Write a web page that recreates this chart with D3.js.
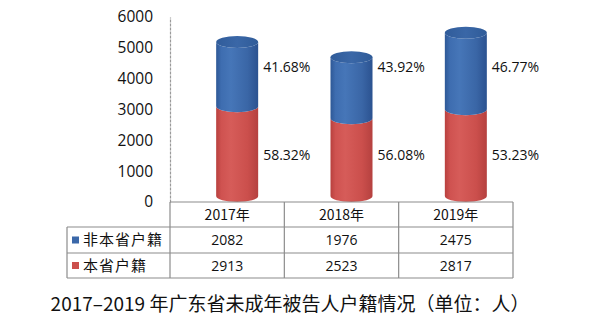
<!DOCTYPE html>
<html>
<head>
<meta charset="utf-8">
<script src="https://cdnjs.cloudflare.com/ajax/libs/d3/7.8.5/d3.min.js"></script>
<style>
  html, body { margin: 0; padding: 0; background: #fff; }
  svg { display: block; }
</style>
</head>
<body>
<svg id="chart" width="612" height="336"></svg>
<script>
// Data: minors tried in Guangdong, by household registration
const years = ["2017年", "2018年", "2019年"];
const seriesNames = ["非本省户籍", "本省户籍"];
const nonLocal = [2082, 1976, 2475];   // 非本省户籍
const local = [2913, 2523, 2817];      // 本省户籍
const yTicks = [0, 1000, 2000, 3000, 4000, 5000, 6000];
const title = "2017–2019 年广东省未成年被告人户籍情况（单位：人）";

const colors = { nonLocal: "#3B68A9", local: "#CB4F4C" };
const latin = "'Open Sans', 'Liberation Sans', Arial, sans-serif";
const cjk = "'Noto Sans CJK SC', 'Noto Sans', sans-serif";

const svg = d3.select("#chart");

const x = d3.scaleBand().domain(years).range([170, 513]).padding(0);
const y = d3.scaleLinear().domain([0, 6000]).range([202, 17]);

// gradients for the cylinder bodies
const defs = svg.append("defs");
function bodyGradient(id, stops) {
  const g = defs.append("linearGradient").attr("id", id)
    .attr("x1", "0%").attr("x2", "100%").attr("y1", "0%").attr("y2", "0%");
  stops.forEach(([o, c]) => g.append("stop").attr("offset", o).attr("stop-color", c));
}
bodyGradient("gBlue", [["0%", "#2E5896"], ["12%", "#3E6DB0"], ["35%", "#4676B8"], ["75%", "#3A66A6"], ["100%", "#2B5290"]]);
bodyGradient("gRed", [["0%", "#B8403E"], ["12%", "#CF5250"], ["35%", "#D65C59"], ["75%", "#CB4F4C"], ["100%", "#B5413F"]]);
bodyGradient("gTop", [["0%", "#305C9A"], ["50%", "#3A67A7"], ["100%", "#2F5B98"]]);

// value axis
const yAxis = d3.axisLeft(y).tickValues(yTicks).tickSize(0).tickPadding(17).tickFormat(d3.format("d"));
const ax = svg.append("g").attr("transform", "translate(170,0)").call(yAxis);
ax.select(".domain").attr("stroke", "#9a9a9a").attr("stroke-width", 1.2).attr("stroke-dasharray", "3,1");
ax.selectAll("text").attr("font-family", latin).attr("font-size", 15.5).attr("fill", "#111");

// cylinders
const rx = 21, ry = 6, lift = 6, shift = 10;
const yc = v => y(v) - lift;
function body(cx, v0, v1) {
  const y0 = yc(v0), y1 = yc(v1);
  return `M${cx - rx},${y1} L${cx - rx},${y0} A${rx},${ry} 0 0 0 ${cx + rx},${y0} ` +
         `L${cx + rx},${y1} A${rx},${ry} 0 0 1 ${cx - rx},${y1} Z`;
}

const rows = years.map((yr, i) => ({
  year: yr, local: local[i], nonLocal: nonLocal[i], total: local[i] + nonLocal[i]
}));

const cyl = svg.append("g").selectAll("g").data(rows).join("g");
cyl.append("path")
  .attr("d", d => body(x(d.year) + x.bandwidth() / 2 + shift, 0, d.local))
  .attr("fill", "url(#gRed)");
cyl.append("path")
  .attr("d", d => body(x(d.year) + x.bandwidth() / 2 + shift, d.local, d.total))
  .attr("fill", "url(#gBlue)");
cyl.append("ellipse")
  .attr("cx", d => x(d.year) + x.bandwidth() / 2 + shift)
  .attr("cy", d => yc(d.total))
  .attr("rx", rx).attr("ry", ry)
  .attr("fill", "url(#gTop)");

// share labels
const pct = d3.format(".2%");
const labelLevels = { nonLocal: 4380, local: 1520 };
cyl.append("text")
  .attr("x", d => x(d.year) + x.bandwidth() / 2 + shift + rx + 5)
  .attr("y", y(labelLevels.nonLocal))
  .attr("dy", "0.35em")
  .attr("font-family", latin).attr("font-size", 14).attr("fill", "#111")
  .text(d => pct(d.nonLocal / d.total));
cyl.append("text")
  .attr("x", d => x(d.year) + x.bandwidth() / 2 + shift + rx + 5)
  .attr("y", y(labelLevels.local))
  .attr("dy", "0.35em")
  .attr("font-family", latin).attr("font-size", 14).attr("fill", "#111")
  .text(d => pct(d.local / d.total));

// data table under the plot
const rowY = [202, 227, 253, 278];
const tableLeft = 67, tableRight = x.range()[1];
const grid = svg.append("g").attr("stroke", "#8c8c8c").attr("stroke-width", 1.2).attr("fill", "none");
grid.append("line").attr("x1", x.range()[0]).attr("x2", tableRight).attr("y1", rowY[0]).attr("y2", rowY[0]);
rowY.slice(1).forEach(ry0 =>
  grid.append("line").attr("x1", tableLeft).attr("x2", tableRight).attr("y1", ry0).attr("y2", ry0));
grid.append("line").attr("x1", tableLeft).attr("x2", tableLeft).attr("y1", rowY[1]).attr("y2", rowY[3]);
years.forEach(yr =>
  grid.append("line").attr("x1", x(yr)).attr("x2", x(yr)).attr("y1", rowY[0]).attr("y2", rowY[3]));
grid.append("line").attr("x1", tableRight).attr("x2", tableRight).attr("y1", rowY[0]).attr("y2", rowY[3]);

const cellMid = i => (rowY[i] + rowY[i + 1]) / 2;
svg.append("g").selectAll("text").data(years).join("text")
  .attr("x", d => x(d) + x.bandwidth() / 2)
  .attr("y", cellMid(0)).attr("dy", "0.36em")
  .attr("text-anchor", "middle")
  .attr("font-family", cjk).attr("font-size", 14).attr("fill", "#111")
  .text(d => d);

[nonLocal, local].forEach((vals, r) => {
  svg.append("g").selectAll("text").data(vals).join("text")
    .attr("x", (d, i) => x(years[i]) + x.bandwidth() / 2)
    .attr("y", cellMid(r + 1)).attr("dy", "0.36em")
    .attr("text-anchor", "middle")
    .attr("font-family", latin).attr("font-size", 14).attr("fill", "#111")
    .text(d => d);
});

// legend keys in the first column
const legendColors = [colors.nonLocal, colors.local];
seriesNames.forEach((name, r) => {
  const cy = cellMid(r + 1);
  svg.append("rect")
    .attr("x", tableLeft + 5).attr("y", cy - 3.5)
    .attr("width", 7).attr("height", 7)
    .attr("fill", legendColors[r]);
  svg.append("text")
    .attr("x", tableLeft + 16).attr("y", cy).attr("dy", "0.36em")
    .attr("font-family", cjk).attr("font-size", 15).attr("letter-spacing", 1)
    .attr("fill", "#111")
    .text(name);
});

// caption
svg.append("text")
  .attr("x", 290).attr("y", 304).attr("dy", "0.36em")
  .attr("text-anchor", "middle")
  .attr("font-family", cjk).attr("font-size", 19).attr("fill", "#111")
  .text(title);
</script>
</body>
</html>
